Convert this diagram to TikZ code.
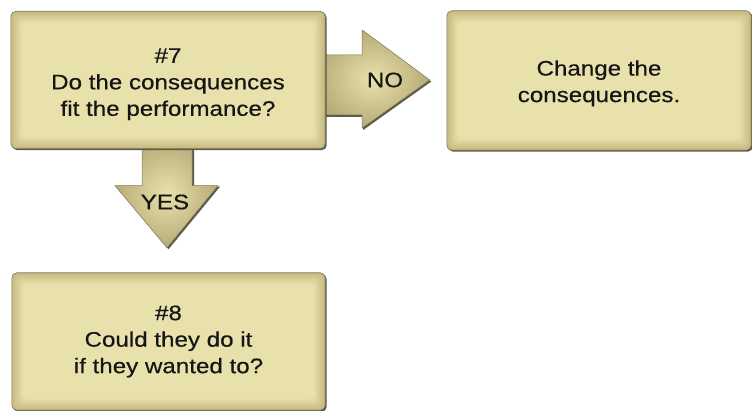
\documentclass[tikz,border=0pt]{standalone}
\usepackage{fontspec}
\setmainfont[FakeStretch=1.15,FakeBold=0.4]{Liberation Sans}
\usetikzlibrary{calc}
\definecolor{boxlight}{HTML}{E9E1AB}
\definecolor{boxdark}{HTML}{C6BA82}
\definecolor{edgeline}{HTML}{7E7658}
\definecolor{shadowc}{HTML}{5E5A48}
\definecolor{inktext}{HTML}{151515}
\pgfdeclarelayer{back}
\pgfdeclarelayer{mid}
\pgfsetlayers{back,mid,main}

% a rounded box with a soft inner glow, built from nested insets
\newcommand{\glowbox}[1]{%
  \fill[shadowc,rounded corners=5pt]
    ($(#1.north west)+(1.5,1.5)$) rectangle ($(#1.south east)+(1.5,1.5)$);
  \foreach \i in {0,...,12}{%
    \pgfmathsetmacro\mixv{min(100,\i*9)}%
    \fill[boxlight!\mixv!boxdark,rounded corners=5pt]
      ($(#1.north west)+(\i,\i)$) rectangle ($(#1.south east)+(-\i,-\i)$);
  }%
  \draw[edgeline,line width=0.6pt,rounded corners=5pt]
    (#1.north west) rectangle (#1.south east);
}
% strut that pushes a text block a little lower inside its box
\newcommand{\lowerby}[1]{\rule{0pt}{\dimexpr 15pt+2\dimexpr #1\relax\relax}}

\tikzset{
  qbox/.style={minimum width=#1, minimum height=137pt, inner sep=0pt,
    align=center, text=inktext, font=\fontsize{21}{26.5}\selectfont},
  lbl/.style={text=inktext, font=\fontsize{21}{24}\selectfont, inner sep=0pt},
  blockarrow/.style={inner color=boxlight, outer color=boxdark!92!black},
}

\begin{document}
\begin{tikzpicture}[x=1pt,y=-1pt]
\useasboundingbox (0,0) rectangle (752,411);

% decision and action boxes
\node[qbox=314pt] (q7) at (168,80) {\lowerby{4pt}\#7\\Do the consequences\\fit the performance?};
\node[qbox=304pt, minimum height=139pt] (act) at (599,80.5) {\lowerby{3pt}Change the\\consequences.};
\node[qbox=313pt] (q8) at (168.5,341.5) {\#8\\Could they do it\\if they wanted to?};

\begin{pgfonlayer}{mid}
  \glowbox{q7}
  \glowbox{act}
  \glowbox{q8}
\end{pgfonlayer}

% block arrows leaving the first box
\coordinate (notip) at ($(act.west)+(-17,-0.5)$);
\coordinate (yestip) at ($(q8.north)+(-1.5,-25)$);
\begin{pgfonlayer}{back}
  % NO arrow
  \fill[shadowc] ($(q7.east)+(-8,-23)$) -- ($(q7.east)+(38,-23)$) -- ($(q7.east)+(38,-48)$)
    -- ($(notip)+(1.5,1.5)$) -- ($(q7.east)+(38,50)$) -- ($(q7.east)+(38,37)$)
    -- ($(q7.east)+(-8,37)$) -- cycle;
  \shade[blockarrow,draw=edgeline,line width=0.5pt]
    ($(q7.east)+(-10,-25)$) -- ($(q7.east)+(37,-25)$) -- ($(q7.east)+(37,-50)$)
    -- (notip) -- ($(q7.east)+(37,48)$) -- ($(q7.east)+(37,35)$)
    -- ($(q7.east)+(-10,35)$) -- cycle;
  % YES arrow
  \fill[shadowc] ($(q7.south)+(-24,-8)$) -- ($(q7.south)+(26,-8)$) -- ($(q7.south)+(26,38)$)
    -- ($(q7.south)+(52,38)$) -- ($(yestip)+(1.5,1.5)$) -- ($(q7.south)+(-51,38)$)
    -- ($(q7.south)+(-24,38)$) -- cycle;
  \shade[blockarrow,draw=edgeline,line width=0.5pt]
    ($(q7.south)+(-26,-10)$) -- ($(q7.south)+(24,-10)$) -- ($(q7.south)+(24,37)$)
    -- ($(q7.south)+(50,37)$) -- (yestip) -- ($(q7.south)+(-53,37)$)
    -- ($(q7.south)+(-26,37)$) -- cycle;
\end{pgfonlayer}

\node[lbl] (nolbl) at (385,80) {NO};
\node[lbl] (yeslbl) at (165,202) {YES};
\end{tikzpicture}
\end{document}
